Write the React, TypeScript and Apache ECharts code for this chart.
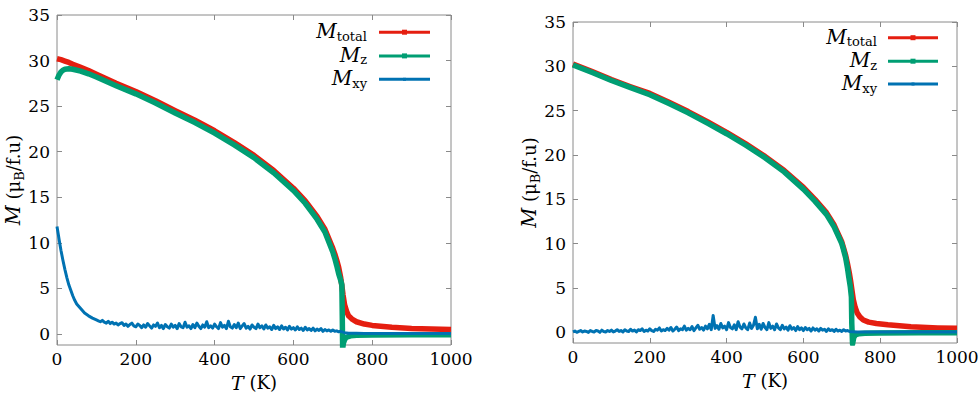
import React, { useEffect, useRef } from 'react';
import * as echarts from 'echarts';

// ---------- data ----------
const X_TICKS = [0, 200, 400, 600, 800, 1000];
const Y_TICKS = [0, 5, 10, 15, 20, 25, 30, 35];

// regular temperature sampling grid (x positions only)
const grid = (a: number, b: number, d: number) => {
  const out: number[] = [];
  for (let t = a; t <= b; t += d) out.push(t);
  return out;
};

// Left panel
const L_T_TOTAL = [0, 10, 20, 30, 40, 60, 80, 100, 150, 200, 250, 300, 350, 400, 450, 500, 550, 600, 630, 660, 680, 700, 705, 710, 715, 720, 723, 726, 730, 735, 740, 750, 760, 780, 800, 850, 900, 950, 1000];
const L_M_TOTAL = [30.2, 30.1, 29.95, 29.8, 29.6, 29.25, 28.9, 28.5, 27.5, 26.6, 25.6, 24.5, 23.45, 22.3, 21.0, 19.6, 17.95, 16.0, 14.6, 12.9, 11.5, 9.4, 8.8, 8.1, 7.3, 6.2, 5.3, 4.3, 3.2, 2.5, 2.0, 1.6, 1.35, 1.1, 0.95, 0.75, 0.62, 0.55, 0.5];

const L_T_Z = [0, 5, 10, 15, 20, 30, 40, 60, 80, 100, 150, 200, 250, 300, 350, 400, 450, 500, 550, 600, 630, 660, 680, 700, 705, 710, 715, 720, 723, 724, 725, 727, 730, 735, 745, 760, 800, 900, 1000];
const L_M_Z = [27.9, 28.4, 28.75, 28.95, 29.05, 29.1, 29.05, 28.85, 28.55, 28.2, 27.25, 26.35, 25.35, 24.25, 23.2, 22.05, 20.75, 19.35, 17.7, 15.75, 14.35, 12.6, 11.2, 9.0, 8.3, 7.5, 6.6, 5.9, 5.4, 2.0, -1.6, -1.0, -0.6, -0.35, -0.2, -0.12, -0.1, -0.08, -0.08];

const L_T_XY = [
  0, 3, 6, 10, 15, 20, 25, 30, 35, 40, 45, 50, 60, 70, 80, 90,
  ...grid(100, 720, 5),
  730, 740, 760, 780, 800, 850, 900, 950, 1000,
];
const L_M_XY = [
  11.8, 11.0, 10.2, 9.2, 8.1, 7.1, 6.2, 5.4, 4.8, 4.2, 3.7, 3.3, 2.8, 2.3, 2.0, 1.75,
  1.55, 1.45, 1.35, 1.5, 1.3, 1.2, 1.4, 1.15, 1.3, 1.1,
  1.2, 1.0, 1.15, 1.25, 0.95, 1.1, 0.85, 1.05, 1.2, 0.9,
  0.8, 1.1, 0.95, 0.7, 1.0, 0.75, 1.15, 0.9, 0.65, 1.0,
  0.85, 1.2, 0.7, 0.95, 0.6, 1.05, 0.8, 0.65, 1.1, 0.75,
  0.95, 0.6, 1.15, 0.8, 0.7, 1.3, 0.75, 0.9, 0.6, 1.05,
  0.7, 1.2, 0.85, 0.6, 1.0, 0.75, 1.35, 0.7, 0.9, 0.65,
  1.1, 0.8, 0.6, 1.25, 0.75, 0.95, 0.6, 1.4, 0.8, 0.65,
  1.05, 0.7, 1.2, 0.6, 0.9, 1.15, 0.65, 0.85, 0.55, 1.0,
  0.75, 0.6, 1.1, 0.7, 0.9, 0.55, 1.0, 0.65, 0.8, 0.5,
  0.95, 0.6, 0.8, 0.5, 0.9, 0.55, 0.75, 0.45, 0.85, 0.55,
  0.7, 0.45, 0.8, 0.5, 0.65, 0.4, 0.75, 0.45, 0.6, 0.4,
  0.65, 0.35, 0.55, 0.4, 0.6, 0.3, 0.5, 0.35, 0.45, 0.3,
  0.45, 0.3, 0.35, 0.25, 0.3,
  0.15, 0.1, 0.08, 0.06, 0.05, 0.05, 0.05, 0.05, 0.05,
];

// Right panel
const R_T_TOTAL = [0, 50, 100, 150, 200, 250, 300, 350, 400, 450, 500, 550, 600, 630, 660, 680, 700, 704, 710, 715, 720, 723, 727, 730, 735, 740, 747, 756, 770, 790, 820, 880, 950, 1000];
const R_M_TOTAL = [30.25, 29.4, 28.5, 27.7, 26.95, 25.95, 24.9, 23.75, 22.55, 21.25, 19.85, 18.25, 16.35, 15.0, 13.5, 12.1, 10.2, 9.6, 8.7, 7.7, 6.6, 5.8, 4.6, 3.7, 2.8, 2.2, 1.75, 1.4, 1.15, 1.0, 0.85, 0.62, 0.5, 0.45];

const R_T_Z = [0, 50, 100, 150, 200, 250, 300, 350, 400, 450, 500, 550, 600, 630, 660, 680, 700, 704, 710, 715, 718, 722, 725, 726, 728, 731, 735, 745, 760, 800, 900, 1000];
const R_M_Z = [30.15, 29.3, 28.4, 27.6, 26.8, 25.8, 24.75, 23.6, 22.4, 21.1, 19.7, 18.1, 16.15, 14.8, 13.3, 11.9, 10.0, 9.4, 8.4, 7.2, 6.3, 5.2, 4.0, 1.0, -1.3, -0.6, -0.3, -0.15, -0.1, -0.07, -0.05, -0.05];

const R_T_XY = [...grid(0, 720, 5), 730, 740, 760, 800, 900, 1000];
const R_M_XY = [
  0.05, 0.15, 0.0, 0.1, 0.2, 0.05, 0.15, 0.1, 0.0, 0.2,
  0.1, 0.05, 0.2, 0.15, 0.0, 0.25, 0.1, 0.05, 0.2, 0.1,
  0.25, 0.05, 0.15, 0.3, 0.1, 0.2, 0.05, 0.3, 0.15, 0.1,
  0.35, 0.15, 0.25, 0.05, 0.3, 0.2, 0.4, 0.1, 0.25, 0.15,
  0.4, 0.2, 0.1, 0.35, 0.25, 0.5, 0.15, 0.3, 0.2, 0.45,
  0.25, 0.55, 0.15, 0.35, 0.6, 0.2, 0.4, 0.3, 0.7, 0.25,
  0.45, 0.3, 0.65, 0.2, 0.5, 0.8, 0.35, 0.55, 0.25, 0.7,
  0.4, 0.9, 0.3, 1.9, 0.45, 0.75, 0.35, 1.0, 0.5, 0.7,
  0.3, 1.1, 0.55, 0.4, 0.85, 0.3, 1.2, 0.6, 0.4, 0.95,
  0.5, 0.3, 1.05, 0.45, 0.8, 1.7, 0.4, 0.9, 0.35, 1.0,
  0.55, 0.3, 1.1, 0.45, 0.7, 0.3, 0.95, 0.5, 0.3, 0.8,
  0.4, 0.6, 0.25, 0.75, 0.35, 0.55, 0.2, 0.65, 0.3, 0.5,
  0.2, 0.55, 0.3, 0.45, 0.15, 0.5, 0.25, 0.4, 0.15, 0.45,
  0.25, 0.35, 0.1, 0.4, 0.2, 0.3, 0.1, 0.35, 0.15, 0.25,
  0.1, 0.3, 0.15, 0.2, 0.1,
  0.08, 0.05, 0.05, 0.05, 0.05, 0.05,
];

// ---------- styling ----------
const FONT = 'DejaVu Serif';
const RED = '#e51e10';
const GREEN = '#009e73';
const BLUE = '#0072b2';
const BORDER = '#8a8a8a';

const pairs = (t: number[], v: number[]) => t.map((x, i) => [x, v[i]]);

const GRIDS = [
  { left: 57, top: 15, width: 394, height: 330 },
  { left: 573, top: 22, width: 384, height: 321 },
];

const tickStyle = { inside: true, length: 5, lineStyle: { color: BORDER, width: 1 } };

function xAxes(gi: number) {
  return [
    {
      type: 'value', gridIndex: gi, position: 'bottom', min: 0, max: 1000, interval: 200,
      axisLine: { show: false, onZero: false },
      axisTick: tickStyle,
      splitLine: { show: false },
      axisLabel: { fontFamily: FONT, fontSize: 17, color: '#000', margin: 5, formatter: (v: number) => String(v) },
      name: '{i|T} (K)', nameLocation: 'middle', nameGap: 28, nameMoveOverlap: false,
      nameTextStyle: {
        fontFamily: FONT, fontSize: 18, color: '#000',
        rich: { i: { fontFamily: FONT, fontSize: 19, fontStyle: 'italic', color: '#000' } },
      },
    },
    {
      type: 'value', gridIndex: gi, position: 'top', min: 0, max: 1000, interval: 200,
      axisLine: { show: false, onZero: false },
      axisTick: tickStyle,
      splitLine: { show: false },
      axisLabel: { show: false },
    },
  ];
}

function yAxes(gi: number) {
  return [
    {
      type: 'value', gridIndex: gi, position: 'left', min: -1.2, max: 35,
      axisLine: { show: false, onZero: false },
      axisTick: { ...tickStyle, customValues: Y_TICKS },
      splitLine: { show: false },
      axisLabel: { fontFamily: FONT, fontSize: 17, color: '#000', margin: 7, customValues: Y_TICKS },
      name: '{i|M} (μ{s|B}/f.u)', nameLocation: 'middle', nameGap: 31, nameMoveOverlap: false,
      nameTextStyle: {
        fontFamily: FONT, fontSize: 18, color: '#000', lineHeight: 26,
        rich: {
          i: { fontFamily: FONT, fontSize: 19.5, fontStyle: 'italic', color: '#000', lineHeight: 26 },
          s: { fontFamily: FONT, fontSize: 13, color: '#000', verticalAlign: 'bottom' },
        },
      },
    },
    {
      type: 'value', gridIndex: gi, position: 'right', min: -1.2, max: 35,
      axisLine: { show: false, onZero: false },
      axisTick: { ...tickStyle, customValues: Y_TICKS },
      splitLine: { show: false },
      axisLabel: { show: false, customValues: Y_TICKS },
    },
  ];
}

function line(gi: number, color: string, data: number[][], width: number, z: number) {
  return {
    type: 'line', xAxisIndex: gi * 2, yAxisIndex: gi * 2, data,
    symbol: 'none', showSymbol: false, clip: true, silent: true, z,
    lineStyle: { color, width, join: 'round' },
    itemStyle: { color },
  };
}

function measure(text: string, font: string, fallback: number) {
  try {
    const c = document.createElement('canvas').getContext('2d');
    if (!c) return fallback;
    c.font = font;
    return c.measureText(text).width;
  } catch (e) {
    return fallback;
  }
}

function legend(textRight: number, x1: number, x2: number, ys: number[]) {
  const entries = [
    { sub: 'total', color: RED, mk: 5 },
    { sub: 'z', color: GREEN, mk: 5 },
    { sub: 'xy', color: BLUE, mk: 3 },
  ];
  const els: any[] = [];
  entries.forEach((e, i) => {
    const y = ys[i];
    const subW = measure(e.sub, `13px ${FONT}`, e.sub.length * 7);
    els.push({
      type: 'text', silent: true, z: 100,
      style: {
        text: 'M', x: textRight - subW, y: y - 1, align: 'right', verticalAlign: 'middle',
        fontFamily: FONT, fontSize: 20, fontStyle: 'italic', fill: '#000', lineHeight: 16,
      },
    });
    els.push({
      type: 'text', silent: true, z: 100,
      style: {
        text: e.sub, x: textRight, y: y + 4, align: 'right', verticalAlign: 'middle',
        fontFamily: FONT, fontSize: 13, fill: '#000', lineHeight: 10,
      },
    });
    els.push({
      type: 'line', silent: true, z: 100,
      shape: { x1, y1: y, x2, y2: y },
      style: { stroke: e.color, lineWidth: 3 },
    });
    const cx = (x1 + x2) / 2;
    els.push({
      type: 'rect', silent: true, z: 101,
      shape: { x: cx - e.mk / 2, y: y - e.mk / 2, width: e.mk, height: e.mk },
      style: { fill: e.color },
    });
  });
  return els;
}

function buildOption(): any {
  return {
    animation: false,
    backgroundColor: '#ffffff',
    grid: GRIDS.map((g) => ({
      ...g, show: true, borderColor: BORDER, borderWidth: 1, backgroundColor: 'transparent',
      containLabel: false, outerBoundsMode: 'none',
    })),
    xAxis: [...xAxes(0), ...xAxes(1)],
    yAxis: [...yAxes(0), ...yAxes(1)],
    series: [
      line(0, RED, pairs(L_T_TOTAL, L_M_TOTAL), 5.5, 2),
      line(0, GREEN, pairs(L_T_Z, L_M_Z), 5.5, 3),
      line(0, BLUE, pairs(L_T_XY, L_M_XY), 3, 4),
      line(1, RED, pairs(R_T_TOTAL, R_M_TOTAL), 5.5, 2),
      line(1, GREEN, pairs(R_T_Z, R_M_Z), 5.5, 3),
      line(1, BLUE, pairs(R_T_XY, R_M_XY), 3, 4),
    ],
    graphic: [
      ...legend(367, 379, 430, [32.2, 55.9, 79.3]),
      ...legend(877, 888, 938, [37.7, 61.2, 84]),
    ],
  };
}

export default function App() {
  const ref = useRef<HTMLDivElement>(null);
  useEffect(() => {
    document.body.style.margin = '0';
    const chart = echarts.init(ref.current as HTMLDivElement, null, { renderer: 'svg' });
    chart.setOption(buildOption());
    return () => chart.dispose();
  }, []);
  return <div ref={ref} style={{ width: 980, height: 395, background: '#fff' }} />;
}
